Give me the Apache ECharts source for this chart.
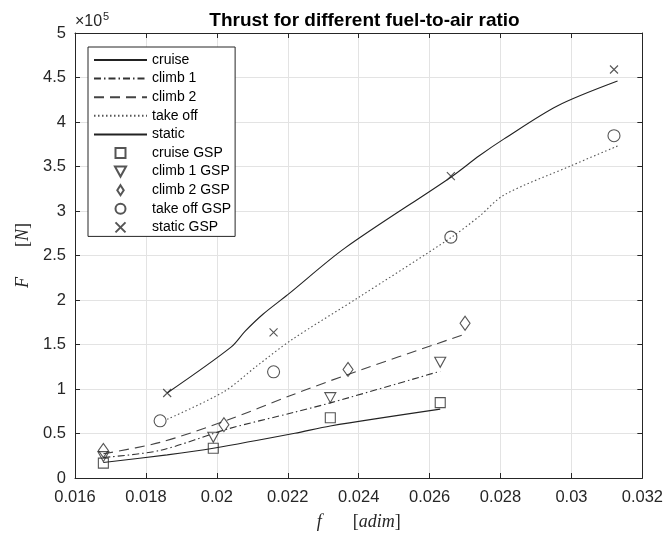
<!DOCTYPE html>
<html>
<head>
<meta charset="utf-8">
<script src="https://cdn.jsdelivr.net/npm/echarts@6/dist/echarts.min.js"></script>
<style>
  html, body { margin: 0; padding: 0; background: #fff; }
  #chart { width: 666px; height: 536px; }
</style>
</head>
<body>
<div id="chart"></div>
<script>
// model curves (f [-], F [N])
var cruiseX   = [0.0168, 0.0186, 0.0199, 0.0222, 0.0232, 0.0263];
var cruiseY   = [17500, 26000, 33400, 50200, 58500, 77400];
var climb1X   = [0.0168, 0.0184, 0.0203, 0.0222, 0.0233, 0.0263];
var climb1Y   = [23100, 31000, 55000, 74000, 85500, 120000];
var climb2X   = [0.0168, 0.0184, 0.0203, 0.0221, 0.0237, 0.0270];
var climb2Y   = [27200, 40000, 65100, 93000, 116400, 161700];
var takeoffX  = [0.0186, 0.0202, 0.0211, 0.0221, 0.0240, 0.0266, 0.0274, 0.0281, 0.0300, 0.0313];
var takeoffY  = [66000, 97000, 125000, 155000, 203000, 270000, 294000, 318000, 351000, 373000];
var staticX   = [0.0186, 0.0204, 0.0208, 0.0213, 0.0220, 0.0236, 0.0266, 0.0274, 0.0281, 0.0296, 0.0313];
var staticY   = [95500, 147000, 165000, 184000, 206000, 258000, 338000, 362000, 381000, 418000, 446000];

// GSP points
var cruiseGspX  = [0.0168, 0.0199, 0.0232, 0.0263];
var cruiseGspY  = [16700, 33400, 67700, 84700];
var climb1GspX  = [0.0168, 0.0199, 0.0232, 0.0263];
var climb1GspY  = [24000, 45700, 90300, 130000];
var climb2GspX  = [0.0168, 0.0202, 0.0237, 0.0270];
var climb2GspY  = [30900, 59900, 122000, 173900];
var takeoffGspX = [0.0184, 0.0216, 0.0266, 0.0312];
var takeoffGspY = [64300, 119300, 270600, 384600];
var staticGspX  = [0.0186, 0.0216, 0.0266, 0.0312];
var staticGspY  = [95500, 163500, 339300, 459000];

var lineNames = ['cruise', 'climb 1', 'climb 2', 'take off', 'static'];
var gspNames = ['cruise GSP', 'climb 1 GSP', 'climb 2 GSP', 'take off GSP', 'static GSP'];

function pairs(xs, ys) {
  return xs.map(function (x, i) { return [x, ys[i]]; });
}

var sans = 'Liberation Sans, Arial, Helvetica, sans-serif';
var serif = 'Liberation Serif, Times New Roman, serif';
var axisCol = '#262626';

var squarePath  = 'path://M0,0L10,0L10,10L0,10Z';
var triPath     = 'path://M0,0L10,0L5,9Z';
var diamondPath = 'path://M5,0L9.5,7L5,14L0.5,7Z';
var crossPath   = 'path://M0,0L10,10M10,0L0,10';

function lineSeries(name, xs, ys, type, color) {
  return {
    name: name, type: 'line', data: pairs(xs, ys),
    symbol: 'none', smooth: 0.3, silent: true,
    lineStyle: { color: color, width: 1.1, type: type },
    itemStyle: { color: color },
    z: 3
  };
}
function markSeries(name, xs, ys, symbol, size) {
  return {
    name: name, type: 'scatter', data: pairs(xs, ys),
    symbol: symbol, symbolSize: size, silent: true,
    itemStyle: { color: 'rgba(0,0,0,0)', borderColor: '#2a2a2a', borderWidth: 1.1 },
    z: 4
  };
}

var legendData = lineNames.map(function (n) {
  return { name: n, itemStyle: { opacity: 0 } };
}).concat(gspNames.map(function (n) { return { name: n }; }));

var chart = echarts.init(document.getElementById('chart'), null, { renderer: 'canvas' });

var option = {
  animation: false,
  backgroundColor: '#fff',
  title: {
    text: 'Thrust for different fuel-to-air ratio',
    left: 359.5, top: 6, textAlign: 'center',
    textStyle: { fontFamily: sans, fontSize: 19, fontWeight: 'bold', color: '#000' }
  },
  grid: { left: 75, right: 22, top: 33, bottom: 54 },
  legend: {
    orient: 'vertical', left: 88, top: 47,
    padding: [6, 4, 2, 5], itemGap: 4.6, itemWidth: 53, itemHeight: 10,
    symbolKeepAspect: true,
    backgroundColor: '#fff', borderColor: axisCol, borderWidth: 1,
    textStyle: { fontFamily: sans, fontSize: 14, lineHeight: 14, color: '#000' },
    data: legendData
  },
  xAxis: [{
    type: 'value', min: 0.016, max: 0.032, interval: 0.002,
    name: '{i|f}{s|}{n|[}{i|adim}{n|]}', nameLocation: 'middle', nameGap: 35,
    nameTextStyle: {
      rich: {
        i: { fontFamily: serif, fontStyle: 'italic', fontSize: 18, color: '#262626' },
        n: { fontFamily: serif, fontSize: 18, color: '#262626' },
        s: { width: 31 }
      }
    },
    axisLine: { show: true, onZero: false, lineStyle: { color: axisCol, width: 1 } },
    axisTick: { show: true, inside: true, length: 5, lineStyle: { color: axisCol } },
    axisLabel: {
      fontFamily: sans, fontSize: 16.5, color: axisCol, margin: 11,
      formatter: function (v) { return String(+v.toFixed(3)); }
    },
    splitLine: { show: true, lineStyle: { color: '#e3e3e3', width: 1 } }
  }, {
    type: 'value', position: 'top', min: 0.016, max: 0.032, interval: 0.002,
    axisLine: { show: true, onZero: false, lineStyle: { color: axisCol, width: 1 } },
    axisTick: { show: true, inside: true, length: 5, lineStyle: { color: axisCol } },
    axisLabel: { show: false }, splitLine: { show: false }
  }],
  yAxis: [{
    type: 'value', min: 0, max: 500000, interval: 50000,
    name: '{i|F}{s|}{n|[}{i|N}{n|]}', nameLocation: 'middle', nameGap: 43,
    nameTextStyle: {
      rich: {
        i: { fontFamily: serif, fontStyle: 'italic', fontSize: 18, color: '#262626' },
        n: { fontFamily: serif, fontSize: 18, color: '#262626' },
        s: { width: 30 }
      }
    },
    axisLine: { show: true, onZero: false, lineStyle: { color: axisCol, width: 1 } },
    axisTick: { show: true, inside: true, length: 5, lineStyle: { color: axisCol } },
    axisLabel: {
      fontFamily: sans, fontSize: 16.5, color: axisCol, margin: 9,
      formatter: function (v) { return String(+(v / 1e5).toFixed(2)); }
    },
    splitLine: { show: true, lineStyle: { color: '#e3e3e3', width: 1 } }
  }, {
    type: 'value', position: 'right', min: 0, max: 500000, interval: 50000,
    axisLine: { show: true, onZero: false, lineStyle: { color: axisCol, width: 1 } },
    axisTick: { show: true, inside: true, length: 5, lineStyle: { color: axisCol } },
    axisLabel: { show: false }, splitLine: { show: false }
  }],
  graphic: [
    { type: 'text', left: 75, top: 14,
      style: { text: '×10', font: '16px ' + sans, fill: axisCol } },
    { type: 'text', left: 103, top: 11,
      style: { text: '5', font: '11px ' + sans, fill: axisCol } }
  ],
  series: [
    lineSeries('cruise', cruiseX, cruiseY, 'solid', '#222'),
    lineSeries('climb 1', climb1X, climb1Y, [7, 3, 1.5, 3], '#333'),
    lineSeries('climb 2', climb2X, climb2Y, [10, 6], '#444'),
    lineSeries('take off', takeoffX, takeoffY, [1.5, 2.5], '#555'),
    lineSeries('static', staticX, staticY, 'solid', '#222'),
    markSeries('cruise GSP', cruiseGspX, cruiseGspY, squarePath, 10),
    markSeries('climb 1 GSP', climb1GspX, climb1GspY, triPath, [11, 10]),
    markSeries('climb 2 GSP', climb2GspX, climb2GspY, diamondPath, [10, 14]),
    markSeries('take off GSP', takeoffGspX, takeoffGspY, 'circle', 12),
    markSeries('static GSP', staticGspX, staticGspY, crossPath, 8)
  ]
};

chart.setOption(option);
</script>
</body>
</html>
